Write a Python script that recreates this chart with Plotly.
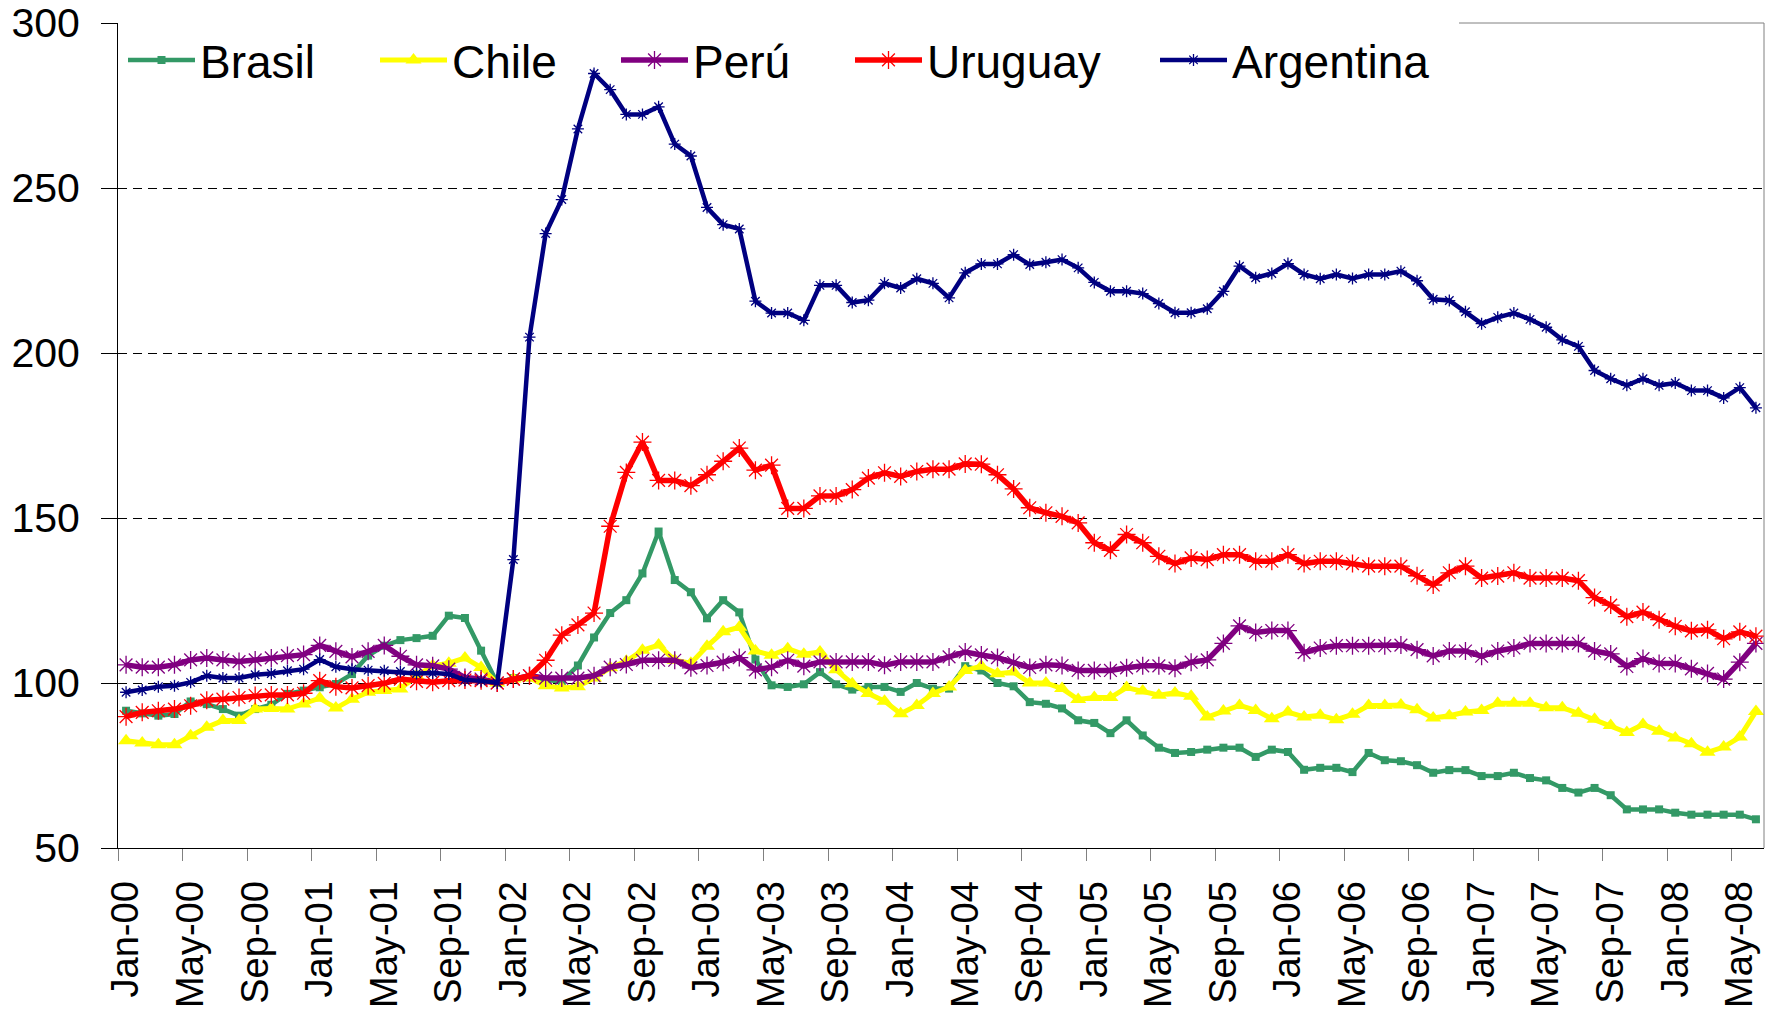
import plotly.graph_objects as go

# ---------------- data (monthly index, Dec-01 = 100) ----------------
tick_labels = ['Jan-00', 'May-00', 'Sep-00', 'Jan-01', 'May-01', 'Sep-01', 'Jan-02', 'May-02',
               'Sep-02', 'Jan-03', 'May-03', 'Sep-03', 'Jan-04', 'May-04', 'Sep-04', 'Jan-05',
               'May-05', 'Sep-05', 'Jan-06', 'May-06', 'Sep-06', 'Jan-07', 'May-07', 'Sep-07',
               'Jan-08', 'May-08']

brasil = [
    91.6, 90.8, 90.1, 90.6, 94.4, 93.6, 92.1, 90.1, 92.1, 93.4, 96.7, 97.7,
    98.7, 99.7, 102.7, 108.3, 111.3, 113.0, 113.6, 114.3, 120.4, 119.7, 109.8, 100.0,
    101.5, 101.7, 100.9, 100.5, 105.3, 113.8, 121.2, 125.1, 133.2, 145.9, 131.2, 127.5,
    119.6, 125.1, 121.4, 107.1, 99.3, 98.8, 99.6, 103.3, 99.6, 98.0, 98.8, 98.8,
    97.3, 100.0, 98.3, 98.3, 105.1, 103.8, 100.0, 99.0, 94.2, 93.7, 92.3, 88.7,
    87.9, 84.8, 88.7, 84.1, 80.4, 78.8, 79.1, 79.8, 80.4, 80.4, 77.6, 79.8,
    79.1, 73.7, 74.3, 74.3, 73.0, 78.8, 76.6, 76.3, 75.1, 72.8, 73.6, 73.6,
    71.8, 71.8, 72.8, 71.2, 70.5, 68.2, 66.8, 68.2, 66.0, 61.7, 61.7, 61.7,
    60.7, 60.1, 60.1, 60.1, 60.1, 58.7]

chile = [
    82.5, 81.8, 81.3, 81.3, 84.0, 86.6, 88.6, 88.6, 92.1, 92.3, 92.1, 93.6,
    95.4, 92.4, 95.1, 97.2, 97.7, 98.2, 102.2, 105.2, 106.0, 107.6, 104.7, 100.0,
    101.2, 101.5, 99.2, 98.5, 98.9, 101.5, 104.6, 106.6, 109.9, 111.5, 106.9, 106.0,
    111.1, 115.5, 116.9, 109.7, 108.4, 110.4, 108.7, 109.4, 104.0, 99.8, 96.8, 94.5,
    90.7, 93.2, 96.8, 98.8, 103.8, 105.1, 102.8, 103.3, 100.0, 100.0, 98.3, 95.0,
    95.6, 95.6, 98.6, 97.6, 96.3, 97.0, 96.0, 89.7, 91.5, 93.2, 91.7, 89.2,
    91.2, 89.7, 90.2, 88.9, 90.5, 93.2, 93.2, 93.3, 91.9, 89.4, 90.1, 91.2,
    91.7, 93.9, 93.9, 93.9, 92.5, 92.5, 90.8, 89.0, 87.1, 85.0, 87.4, 85.4,
    83.3, 81.6, 79.0, 80.6, 83.6, 91.4]

peru = [
    105.5, 104.8, 104.8, 105.5, 107.0, 107.6, 107.0, 106.5, 107.0, 107.6, 108.3, 108.6,
    111.4, 109.6, 107.9, 109.6, 111.4, 108.1, 105.5, 105.2, 104.2, 101.7, 101.2, 100.0,
    101.2, 102.2, 101.5, 101.5, 101.5, 102.2, 104.8, 105.6, 106.9, 106.9, 106.9, 104.6,
    105.3, 106.3, 107.7, 104.0, 104.8, 106.9, 105.1, 106.4, 106.4, 106.4, 106.4, 105.4,
    106.4, 106.4, 106.4, 107.9, 109.4, 108.5, 107.7, 106.2, 104.7, 105.5, 105.3, 103.8,
    103.8, 103.8, 104.6, 105.2, 105.2, 104.5, 106.3, 107.0, 112.0, 117.3, 115.3, 115.9,
    115.9, 109.2, 110.6, 111.3, 111.3, 111.3, 111.3, 111.5, 110.1, 108.2, 109.7, 109.7,
    108.1, 109.7, 110.6, 112.0, 112.0, 112.0, 112.0, 109.7, 108.8, 105.0, 107.4, 105.9,
    105.9, 104.3, 102.9, 101.2, 106.3, 112.0]

uruguay = [
    89.8, 91.1, 91.6, 92.1, 93.1, 94.8, 95.1, 95.6, 96.2, 96.4, 96.4, 96.9,
    100.7, 98.9, 98.5, 99.2, 99.9, 101.2, 100.5, 100.2, 100.7, 100.9, 100.7, 100.0,
    101.2, 102.2, 106.9, 114.5, 117.6, 121.2, 147.5, 163.8, 173.0, 161.4, 161.4, 159.8,
    163.1, 167.2, 171.2, 164.5, 166.0, 152.9, 152.9, 156.7, 156.7, 158.6, 162.1, 163.7,
    162.6, 164.1, 164.8, 164.8, 166.4, 166.3, 163.1, 158.8, 153.1, 151.6, 150.5, 148.5,
    142.5, 140.2, 145.0, 142.5, 138.4, 136.2, 137.9, 137.4, 138.9, 138.9, 136.9, 136.9,
    138.9, 136.2, 136.9, 136.9, 136.2, 135.4, 135.4, 135.4, 132.5, 129.7, 133.4, 135.4,
    131.8, 132.4, 133.4, 131.8, 131.8, 131.8, 131.0, 125.9, 123.6, 120.1, 121.5, 119.2,
    117.2, 115.8, 116.1, 113.4, 115.5, 114.2]

argentina = [
    97.2, 97.9, 98.9, 99.2, 100.2, 102.2, 101.5, 101.5, 102.5, 102.9, 103.7, 104.2,
    107.1, 104.9, 104.2, 103.9, 103.7, 103.5, 102.9, 103.0, 102.7, 100.9, 100.7, 100.0,
    137.4, 204.8, 236.2, 246.5, 267.9, 284.7, 279.8, 272.3, 272.3, 274.6, 263.3, 259.7,
    244.1, 238.9, 237.6, 215.7, 212.1, 212.1, 209.9, 220.5, 220.5, 215.3, 216.0, 221.1,
    219.7, 222.5, 221.1, 216.7, 224.3, 227.0, 227.0, 229.8, 226.8, 227.5, 228.3, 225.8,
    221.4, 218.7, 218.7, 218.0, 215.0, 212.2, 212.2, 213.4, 218.7, 226.3, 222.8, 224.1,
    227.1, 223.8, 222.5, 223.8, 222.6, 223.8, 223.8, 224.8, 221.9, 216.3, 215.9, 212.5,
    208.9, 210.8, 212.1, 210.2, 207.8, 204.0, 202.0, 194.7, 192.2, 190.2, 192.2, 190.2,
    190.9, 188.6, 188.6, 186.4, 189.5, 183.4]

y_ticks = [50, 100, 150, 200, 250, 300]
grid_vals = [100, 150, 200, 250]

# ---------------- layout geometry ----------------
# the page body has an 8px default margin, so the figure starts at (8, 8) on screen
OFF = 8
FW, FH = 1768, 1002
PLOT_L, PLOT_T, PLOT_R, PLOT_B = 118, 23, 1764, 848      # wanted screen positions
L, T = PLOT_L - OFF, PLOT_T - OFF
R, B = FW - (PLOT_R - OFF), FH - (PLOT_B - OFF)
W, H = FW - L - R, FH - T - B
FONT = "Liberation Sans, Arial, sans-serif"


def xp(sx):
    return (sx - OFF - L) / W


def yp(sy):
    return (T + H - (sy - OFF)) / H


x_idx = list(range(len(brasil)))

series = [
    ("Brasil", brasil, "#339966", 4.5, dict(symbol="square", size=8, color="#339966")),
    ("Chile", chile, "#FFFF00", 5, dict(symbol="triangle-up", size=14, color="#FFFF00")),
    ("Perú", peru, "#800080", 5.5, dict(symbol="asterisk-open", size=15,
                                         line=dict(color="#800080", width=1.3))),
    ("Uruguay", uruguay, "#FF0000", 5.5, dict(symbol="asterisk-open", size=15,
                                              line=dict(color="#FF0000", width=1.3))),
    ("Argentina", argentina, "#000080", 4.5, dict(symbol="asterisk-open", size=10,
                                                   line=dict(color="#000080", width=1.3))),
]
legend_text_x = [207, 459, 700, 934, 1239]   # screen x where each legend label starts

fig = go.Figure()
legend_layout = {}
for k, (name, vals, col, lw, mk) in enumerate(series):
    lname = "legend" if k == 0 else f"legend{k + 1}"
    fig.add_trace(go.Scatter(
        x=x_idx, y=vals, name=name, mode="lines+markers",
        line=dict(color=col, width=lw), marker=mk, legend=lname,
    ))
    legend_layout[lname] = dict(
        x=xp(legend_text_x[k] - 84), y=yp(60), xanchor="left", yanchor="middle",
        orientation="h", bgcolor="rgba(0,0,0,0)", itemwidth=67,
        font=dict(family=FONT, size=46, color="black"),
    )

fig.update_layout(
    width=FW, height=FH,
    margin=dict(l=L, r=R, t=T, b=B, pad=0, autoexpand=False),
    paper_bgcolor="white", plot_bgcolor="white",
    font=dict(family=FONT, color="black"),
    showlegend=True,
    **legend_layout,
)

fig.update_xaxes(
    automargin=False,
    range=[-0.5, len(brasil) - 0.5],
    tickmode="array", tickvals=list(range(0, len(brasil), 4)), ticktext=tick_labels,
    tickangle=-90, ticks="", tickfont=dict(family=FONT, size=38, color="black"),
    ticklabelstandoff=17, ticklabeloverflow="allow",
    showline=True, linecolor="black", linewidth=1, showgrid=False, zeroline=False,
    minor=dict(tickmode="linear", tick0=-0.5, dtick=4, ticks="outside", ticklen=12,
               tickcolor="#808080", tickwidth=1, showgrid=False),
)

fig.update_yaxes(
    automargin=False,
    range=[50, 300], tickmode="array", tickvals=y_ticks,
    ticks="outside", ticklen=16, tickcolor="black", tickwidth=1,
    tickfont=dict(family=FONT, size=41, color="black"),
    ticklabelstandoff=13, ticklabeloverflow="allow",
    showline=True, linecolor="black", linewidth=1, showgrid=False, zeroline=False,
    minor=dict(tickmode="array", tickvals=grid_vals, ticks="", showgrid=True,
               gridcolor="black", gridwidth=1, griddash="9px,6px"),
)

# plot frame (right and visible part of the top border)
fig.add_shape(type="line", xref="paper", yref="paper", x0=1, x1=1, y0=0, y1=1,
              line=dict(color="#808080", width=1))
fig.add_shape(type="line", xref="paper", yref="paper", x0=xp(1459), x1=1, y0=1, y1=1,
              line=dict(color="#808080", width=1))

fig.write_html("out.html")
